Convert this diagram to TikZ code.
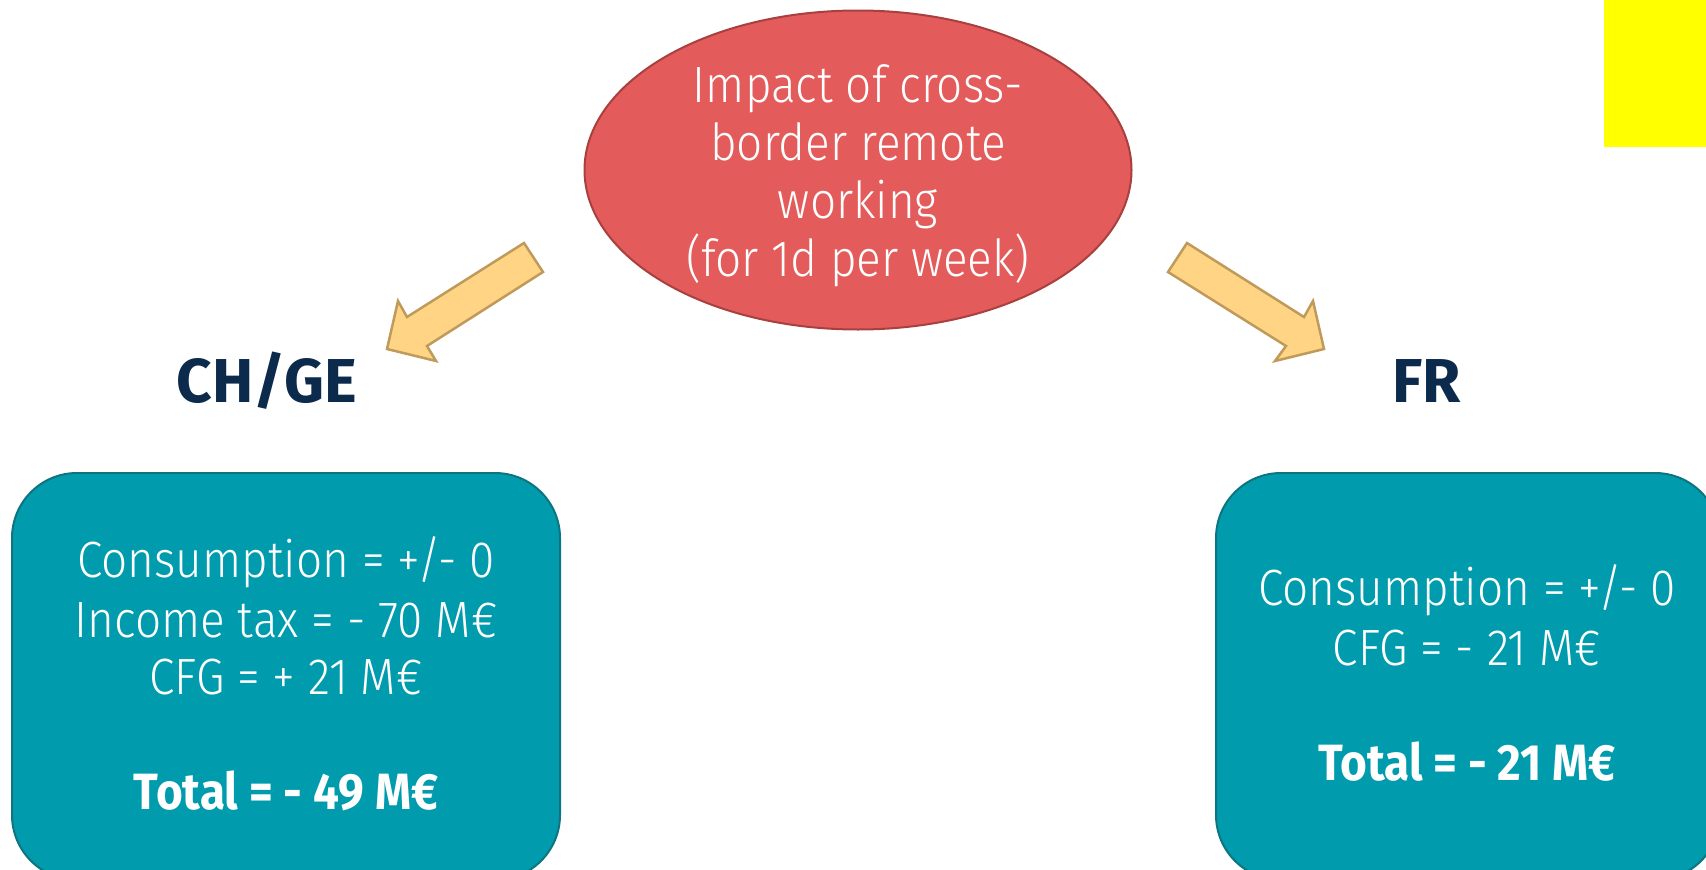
\documentclass[tikz,border=0pt]{standalone}
\usepackage{fontspec}
\setmainfont{Fira Sans}[UprightFont=* Light, BoldFont=* Bold, FakeStretch=0.9]
\newfontfamily\labelfont{Fira Sans}[UprightFont=* Bold]
\usetikzlibrary{shapes.geometric}
\definecolor{ellfill}{HTML}{E35B5A}
\definecolor{elldraw}{HTML}{A8403F}
\definecolor{boxfill}{HTML}{009CAE}
\definecolor{boxdraw}{HTML}{0E7480}
\definecolor{arrfill}{HTML}{FFD485}
\definecolor{arrdraw}{HTML}{BF9A5A}
\definecolor{navy}{HTML}{0B2A4C}
\definecolor{hilite}{HTML}{FFFF00}
\tikzset{
  bubble/.style={ellipse, fill=ellfill, draw=elldraw, line width=2pt, inner sep=0pt,
    minimum width=547pt, minimum height=319pt},
  bubbletext/.style={text=white, align=center, inner sep=0pt,
    font=\fontsize{51}{58}\selectfont},
  resultbox/.style={rounded corners=65pt, fill=boxfill, draw=boxdraw, line width=2pt},
  boxtext/.style={text=white, align=center, font=\fontsize{51}{58}\selectfont, inner sep=0pt},
  country/.style={text=navy, font=\labelfont\fontsize{62}{68}\selectfont, inner sep=0pt},
  blockarrow/.style={fill=arrfill, draw=arrdraw, line width=2.5pt, line join=miter},
}
\begin{document}
\begin{tikzpicture}[x=1pt,y=-1pt]
\useasboundingbox (0,0) rectangle (1706,870);
\clip (0,0) rectangle (1706,870);
\fill[hilite] (1604,0) rectangle (1706,147);
% central ellipse
\node[bubble] (impact) at (858,170) {};
\node[bubbletext] (impacttext) at (858,176) {Impact of cross-\\border remote\\working\\(for 1d per week)};
% block arrows
\draw[blockarrow] (524,243) -- (543,272) -- (427,346) -- (436,361) -- (387,349) -- (398,301) -- (407,317) -- cycle;
\draw[blockarrow] (1187,243) -- (1168,272) -- (1286,346) -- (1275,361) -- (1324,349) -- (1313,301) -- (1304,317) -- cycle;
% country labels
\node[country] (chge) at (267,381) {CH/GE};
\node[country] (fr) at (1427,381) {FR};
% result boxes
\draw[resultbox] (12,473) rectangle (560,880);
\draw[resultbox] (1216,473) rectangle (1720,880);
\node[boxtext] (chl1) at (286,562) {Consumption = +/- 0};
\node[boxtext] (chl2) at (286,620) {Income tax = - 70 M€};
\node[boxtext] (chl3) at (286,677) {CFG = + 21 M€};
\node[boxtext] (chtot) at (286,791) {\bfseries Total = - 49 M€};
\node[boxtext] (frl1) at (1467,590) {Consumption = +/- 0};
\node[boxtext] (frl2) at (1467,648) {CFG = - 21 M€};
\node[boxtext] (frtot) at (1467,762) {\bfseries Total = - 21 M€};
\end{tikzpicture}
\end{document}
